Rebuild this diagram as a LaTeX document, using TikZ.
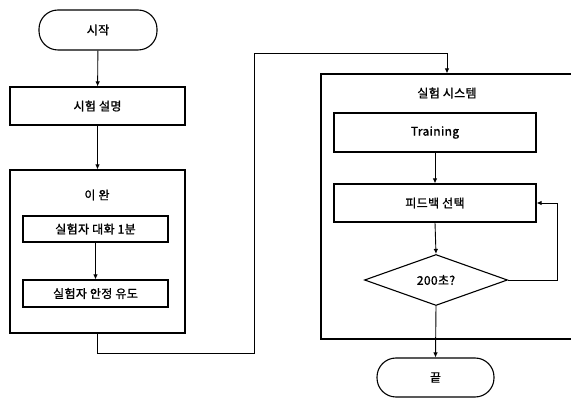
\documentclass[tikz,border=0pt]{standalone}
\usepackage{fontspec}
\setmainfont{Noto Sans CJK KR}[FakeBold=1.2, LetterSpace=3]
\usetikzlibrary{arrows.meta,positioning,shapes.geometric}

\begin{document}
\begin{tikzpicture}[x=1pt,y=1pt,
    font=\fontsize{12}{14}\selectfont,
    box/.style={draw, line width=1.1pt, inner sep=0pt},
    term/.style={box, rounded corners=19pt},
    group/.style={box},
    decide/.style={draw, line width=1.1pt, diamond, aspect=2.8, inner sep=0pt, minimum width=143pt, minimum height=51pt},
    arr/.style={-{Latex[length=5pt,width=4.5pt]}, line width=0.9pt}]
    \useasboundingbox (0,0) rectangle (571,-398);

    \node[term, minimum width=118pt, minimum height=40pt] (start) at (98,-30) {시작};
    \node[box, minimum width=175pt, minimum height=38pt] (explain) at (97.5,-106) {시험 설명};

    \node[group, minimum width=175pt, minimum height=163pt] (relax) at (97.5,-251.5) {};
    \node (relaxtitle) at (97,-195) {이 완};
    \node[box, minimum width=145pt, minimum height=26pt] (talk) at (95.5,-229) {실험자 대화 1분};
    \node[box, minimum width=145pt, minimum height=27pt] (calm) at (95.5,-293.5) {실험자 안정 유도};

    \node[group, minimum width=252pt, minimum height=265pt] (system) at (447,-206.5) {};
    \node (systitle) at (447,-93) {실험 시스템};
    \node[box, minimum width=202pt, minimum height=39pt] (train) at (435,-132.5) {Training};
    \node[box, minimum width=202pt, minimum height=38pt] (fb) at (435,-203) {피드백 선택};
    \node[decide] (check) at (436,-280) {200초?};
    \node[term, minimum width=117pt, minimum height=39pt] (finish) at (435.5,-377.5) {끝};

    \draw[arr] (start) -- (explain);
    \draw[arr] (explain) -- (relax);
    \draw[arr] (talk) -- (calm);
    \draw[line width=0.9pt] (relax.south) -- ++(0,-20) -| (254,-53);
    \draw[arr] (254,-53) -| (system.north);
    \draw[arr] (train.south -| fb.north) -- (fb.north);
    \draw[arr] (fb.south) -- (check.north);
    \draw[arr] (check.east) -- ++(49,0) |- (fb.east);
    \draw[arr] (check.south) -- (finish.north);
\end{tikzpicture}
\end{document}
